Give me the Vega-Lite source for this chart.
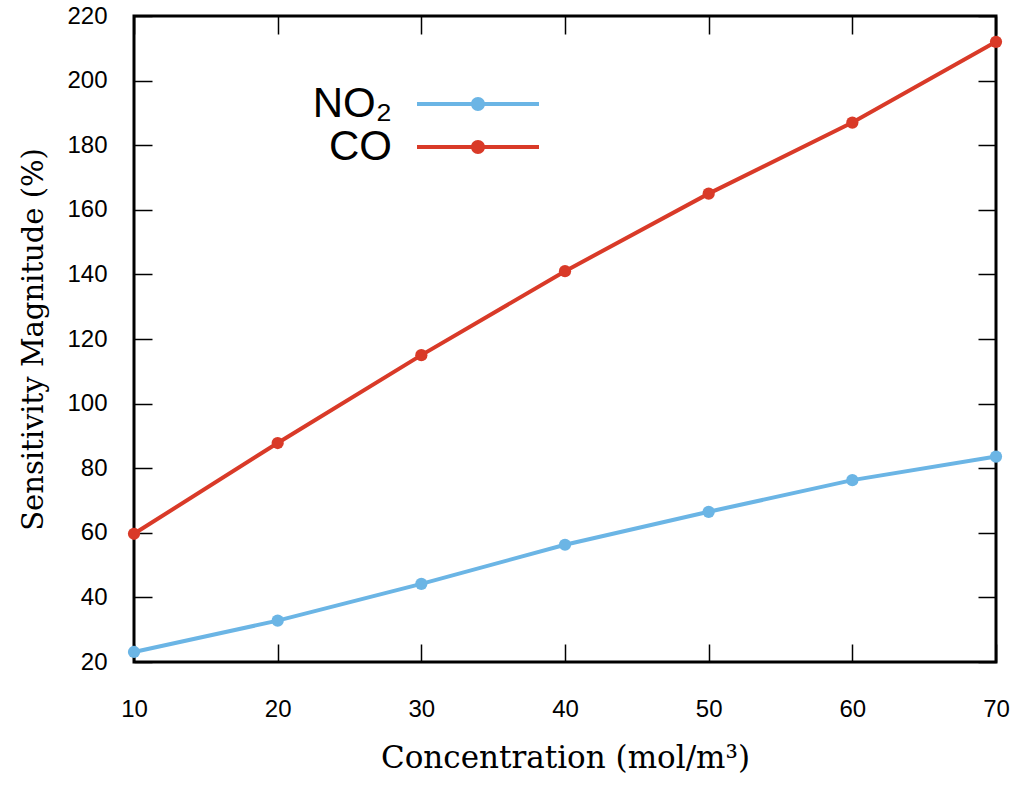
{
  "$schema": "https://vega.github.io/schema/vega-lite/v6.json",
  "autosize": "none",
  "width": 862,
  "height": 646,
  "padding": {"left": 134, "top": 16, "right": 30, "bottom": 130},
  "background": "white",
  "config": {
    "view": {"stroke": "black", "strokeWidth": 3},
    "axis": {"grid": false, "domain": false, "tickColor": "black", "tickWidth": 1.5, "tickSize": -18, "labelFlush": false,
             "labelFont": "Liberation Sans", "labelFontSize": 24, "labelColor": "black",
             "titleFont": "DejaVu Serif", "titleFontWeight": "normal", "titleColor": "black"}
  },
  "data": {"values": [
    {"conc": 10, "value": 23.1, "gas": "NO₂"},
    {"conc": 20, "value": 32.8, "gas": "NO₂"},
    {"conc": 30, "value": 44.2, "gas": "NO₂"},
    {"conc": 40, "value": 56.3, "gas": "NO₂"},
    {"conc": 50, "value": 66.5, "gas": "NO₂"},
    {"conc": 60, "value": 76.3, "gas": "NO₂"},
    {"conc": 70, "value": 83.6, "gas": "NO₂"},
    {"conc": 10, "value": 59.7, "gas": "CO"},
    {"conc": 20, "value": 87.8, "gas": "CO"},
    {"conc": 30, "value": 115, "gas": "CO"},
    {"conc": 40, "value": 141, "gas": "CO"},
    {"conc": 50, "value": 165, "gas": "CO"},
    {"conc": 60, "value": 187, "gas": "CO"},
    {"conc": 70, "value": 212, "gas": "CO"}
  ]},
  "layer": [
    {
      "mark": {"type": "line", "strokeWidth": 4, "clip": false},
      "encoding": {
        "x": {"field": "conc", "type": "quantitative", "scale": {"domain": [10, 70], "nice": false},
              "axis": {"orient": "bottom", "values": [10, 20, 30, 40, 50, 60, 70], "labelPadding": 53, "labelFontSize": 24, "labelFlush": false,
                       "title": "Concentration (mol/m³)", "titleFontSize": 31, "titlePadding": 22}},
        "y": {"field": "value", "type": "quantitative", "scale": {"domain": [20, 220], "nice": false},
              "axis": {"orient": "left", "values": [20, 40, 60, 80, 100, 120, 140, 160, 180, 200, 220], "labelPadding": 45, "labelFontSize": 24, "labelFlush": false,
                       "title": "Sensitivity Magnitude (%)", "titleFontSize": 29, "titlePadding": 18}},
        "color": {"field": "gas", "type": "nominal",
                  "scale": {"domain": ["NO₂", "CO"], "range": ["#6bb5e5", "#d93a28"]},
                  "legend": {"orient": "none", "legendX": 323, "legendY": 67, "title": null, "padding": 0,
                             "symbolType": "M-3.05,-0.1H3.05V0.1H-3.05Z M0.35,0A0.35,0.35,0,1,1,-0.35,0A0.35,0.35,0,1,1,0.35,0Z",
                             "symbolSize": 1600, "symbolStrokeWidth": 0, "symbolOpacity": 1,
                             "labelFont": "Liberation Sans", "labelFontSize": 42, "labelColor": "black",
                             "labelAlign": "right", "labelOffset": -107, "labelLimit": 0, "rowPadding": 1}}
      }
    },
    {
      "mark": {"type": "point", "filled": true, "size": 150, "opacity": 1, "clip": false},
      "encoding": {
        "x": {"field": "conc", "type": "quantitative",
              "axis": {"orient": "top", "values": [10, 20, 30, 40, 50, 60, 70], "labels": false, "title": null}},
        "y": {"field": "value", "type": "quantitative",
              "axis": {"orient": "right", "values": [20, 40, 60, 80, 100, 120, 140, 160, 180, 200, 220], "labels": false, "title": null}},
        "color": {"field": "gas", "type": "nominal"}
      }
    }
  ],
  "resolve": {"axis": {"x": "independent", "y": "independent"}}
}
